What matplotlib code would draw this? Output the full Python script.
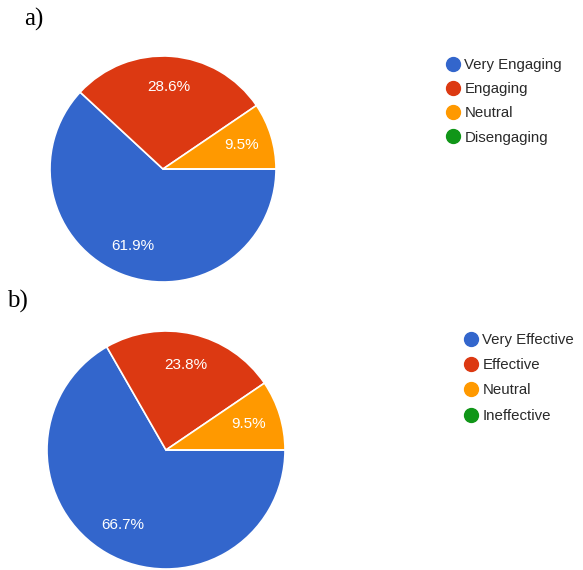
import matplotlib.pyplot as plt
from matplotlib.lines import Line2D

# 資料
labels_a = ["Very Engaging", "Engaging", "Neutral", "Disengaging"]
values_a = [61.9, 28.6, 9.5, 0.0]
labels_b = ["Very Effective", "Effective", "Neutral", "Ineffective"]
values_b = [66.7, 23.8, 9.5, 0.0]
colors = ["#3366CC", "#DC3912", "#FF9900", "#109618"]

plt.rcParams['font.family'] = ['Liberation Sans', 'DejaVu Sans']
W, H = 583, 570
fig = plt.figure(figsize=(W / 100, H / 100), dpi=100)


def pie_axes(cx, cy, r):
    return fig.add_axes([(cx - r) / W, 1 - (cy + r) / H, 2 * r / W, 2 * r / H])


def draw_pie(ax, values, labels, leg_xy, spacing):
    ax.pie(values, colors=colors, startangle=0, counterclock=False, radius=1,
           autopct=lambda p: "" if p == 0 else f"{p:.1f}%", pctdistance=0.73,
           wedgeprops=dict(edgecolor="white", linewidth=1.2),
           textprops=dict(color="white", fontsize=11))
    ax.set_xlim(-1, 1)
    ax.set_ylim(-1, 1)
    ax.set_aspect("equal")
    handles = [Line2D([], [], marker="o", linestyle="", markersize=10,
                      markerfacecolor=c, markeredgecolor=c) for c in colors]
    fig.legend(handles, labels, loc="upper left",
               bbox_to_anchor=(leg_xy[0] / W, 1 - leg_xy[1] / H),
               frameon=False, fontsize=10.8, labelcolor="#2a2a2a",
               handlelength=1.0, handletextpad=0.3, labelspacing=spacing,
               borderaxespad=0, borderpad=0)


ax_a = pie_axes(163, 169, 113)
draw_pie(ax_a, values_a, labels_a, (445, 58), 0.68)
ax_b = pie_axes(166, 450, 119)
draw_pie(ax_b, values_b, labels_b, (463, 333), 0.75)

fig.text(24 / W, 1 - 19 / H, "a)", family="Liberation Serif", fontsize=18, va="center")
fig.text(7 / W, 1 - 301 / H, "b)", family="Liberation Serif", fontsize=18, va="center")

fig.savefig("out.png", dpi=100, facecolor="white")
